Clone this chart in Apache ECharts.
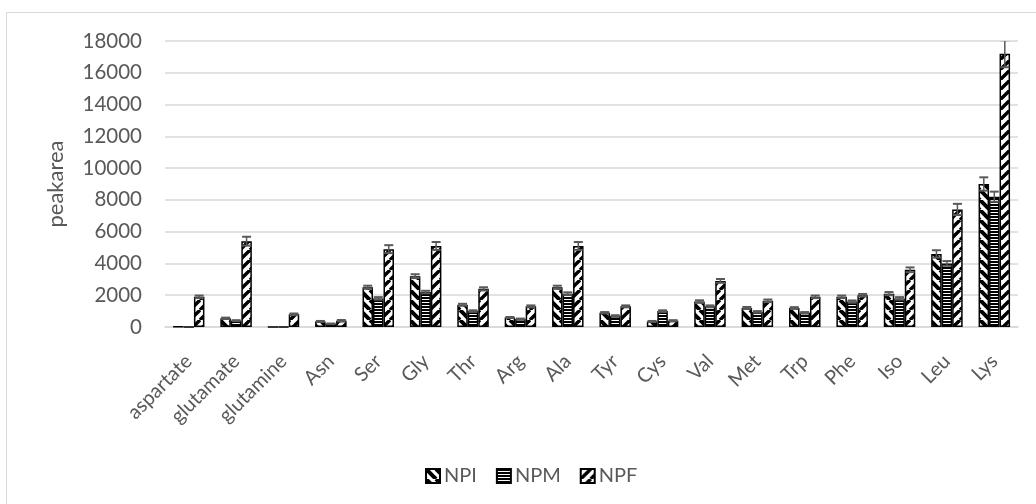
<!DOCTYPE html>
<html>
<head>
<meta charset="utf-8">
<script src="https://cdn.jsdelivr.net/npm/echarts@6/dist/echarts.min.js"></script>
<style>
  html, body { margin: 0; padding: 0; background: #ffffff; }
  #chart { width: 1036px; height: 504px; }
</style>
</head>
<body>
<div id="chart"></div>
<script>
// Amino acid peak areas for the three samples, with standard deviations
const categories = ['aspartate', 'glutamate', 'glutamine', 'Asn', 'Ser', 'Gly', 'Thr', 'Arg', 'Ala',
  'Tyr', 'Cys', 'Val', 'Met', 'Trp', 'Phe', 'Iso', 'Leu', 'Lys'];
const seriesNames = ['NPI', 'NPM', 'NPF'];
const npi = [20, 550, 10, 350, 2500, 3200, 1400, 600, 2500, 900, 350, 1600, 1200, 1200, 1900, 2100, 4600, 9000];
const npm = [0, 400, 10, 200, 1800, 2200, 1000, 500, 2100, 700, 1000, 1300, 950, 900, 1600, 1800, 4000, 8200];
const npf = [1900, 5400, 800, 400, 4900, 5100, 2400, 1300, 5100, 1300, 400, 2900, 1650, 1900, 2000, 3600, 7400, 17200];
const npiErr = [0, 40, 0, 30, 100, 120, 60, 30, 100, 40, 30, 80, 60, 50, 80, 100, 230, 420];
const npmErr = [0, 30, 0, 20, 80, 80, 50, 30, 80, 40, 50, 60, 50, 40, 70, 80, 150, 320];
const npfErr = [80, 280, 50, 40, 250, 250, 100, 60, 250, 60, 30, 120, 80, 80, 80, 150, 350, 850];
const yTicks = { min: 0, max: 18000, interval: 2000 };

const values = [npi, npm, npf];
const errors = [npiErr, npmErr, npfErr];

const FONT = 'Lato, "Liberation Sans", sans-serif';
const TEXT = '#595959';
const BAR_W = 10.5;

// Hatch fills: wide downward diagonal, horizontal lines, wide upward diagonal
function makePattern(kind) {
  const c = document.createElement('canvas');
  const ctx = c.getContext('2d');
  if (kind === 'horizontal') {
    c.width = 4; c.height = 3;
    ctx.fillStyle = '#ffffff'; ctx.fillRect(0, 0, 4, 3);
    ctx.fillStyle = '#000000'; ctx.fillRect(0, 0, 4, 2);
    return c;
  }
  const s = 10;
  c.width = s; c.height = s;
  ctx.fillStyle = '#ffffff'; ctx.fillRect(0, 0, s, s);
  ctx.strokeStyle = '#000000';
  ctx.lineWidth = kind === 'down' ? 4 : 3.4;
  ctx.beginPath();
  for (let k = -1; k <= 1; k++) {
    if (kind === 'down') {
      ctx.moveTo(k * s, 0); ctx.lineTo(k * s + s, s);
    } else {
      ctx.moveTo(k * s, s); ctx.lineTo(k * s + s, 0);
    }
  }
  ctx.stroke();
  return c;
}
const patterns = [makePattern('down'), makePattern('horizontal'), makePattern('up')];

const barSeries = seriesNames.map((name, i) => ({
  name: name,
  type: 'bar',
  data: values[i],
  barWidth: BAR_W,
  barGap: '0%',
  itemStyle: {
    color: { image: patterns[i], repeat: 'repeat' },
    borderColor: '#000000',
    borderWidth: 1.5
  },
  emphasis: { disabled: true },
  z: 2
}));

// Error bars drawn at each bar's horizontal offset in its category group
const errorSeries = seriesNames.map((name, i) => ({
  name: name + ' SD',
  type: 'custom',
  data: values[i].map((v, k) => [k, v, errors[i][k]]),
  z: 5,
  silent: true,
  clip: true,
  renderItem: function (params, api) {
    const mean = api.value(1), err = api.value(2);
    if (!err) return null;
    const offset = (i - 1) * BAR_W;
    const hi = api.coord([api.value(0), mean + err]);
    const lo = api.coord([api.value(0), mean - err]);
    const x = hi[0] + offset;
    const half = 4.5;
    const st = { stroke: '#595959', lineWidth: 1.5 };
    const cap = { stroke: '#595959', lineWidth: 2 };
    return {
      type: 'group',
      children: [
        { type: 'line', shape: { x1: x, y1: hi[1], x2: x, y2: lo[1] }, style: st },
        { type: 'line', shape: { x1: x - half, y1: hi[1], x2: x + half, y2: hi[1] }, style: cap },
        { type: 'line', shape: { x1: x - half, y1: lo[1], x2: x + half, y2: lo[1] }, style: cap }
      ]
    };
  }
}));

const chart = echarts.init(document.getElementById('chart'), null, { renderer: 'canvas' });
chart.setOption({
  backgroundColor: '#ffffff',
  animation: false,
  textStyle: { fontFamily: FONT },
  graphic: [{
    type: 'rect',
    shape: { x: 6.5, y: 12.5, width: 1040, height: 500 },
    style: { fill: 'none', stroke: '#d9d9d9', lineWidth: 1 },
    silent: true, z: -1
  }],
  grid: { left: 165, right: 18, top: 41, bottom: 177 },
  legend: {
    data: seriesNames,
    left: 420,
    top: 461,
    itemWidth: 14,
    itemHeight: 14,
    itemGap: 19,
    icon: 'rect',
    textStyle: { color: TEXT, fontSize: 20, fontFamily: FONT, padding: [0, 0, 0, -1] },
    selectedMode: false
  },
  xAxis: {
    type: 'category',
    data: categories,
    axisTick: { show: false },
    axisLine: { lineStyle: { color: '#d9d9d9', width: 1.5 } },
    axisLabel: {
      rotate: 45,
      interval: 0,
      margin: 31,
      color: TEXT,
      fontSize: 20,
      fontFamily: FONT
    }
  },
  yAxis: {
    type: 'value',
    min: yTicks.min,
    max: yTicks.max,
    interval: yTicks.interval,
    name: 'peakarea',
    nameLocation: 'middle',
    nameGap: 98,
    nameRotate: 90,
    nameTextStyle: { color: TEXT, fontSize: 22, fontFamily: FONT },
    axisLine: { show: false },
    axisTick: { show: false },
    axisLabel: {
      color: TEXT, fontSize: 20.5, fontFamily: FONT, margin: 23,
      formatter: (v) => String(v)
    },
    splitLine: { lineStyle: { color: '#d9d9d9', width: 1.5 } }
  },
  series: barSeries.concat(errorSeries)
});
</script>
</body>
</html>
